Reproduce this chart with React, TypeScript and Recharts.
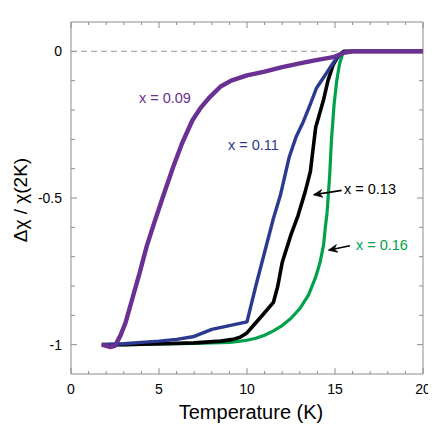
import { LineChart, Line, XAxis, YAxis, ReferenceLine, ReferenceDot, ReferenceArea } from 'recharts';

const FONT = '"Liberation Sans", Arial, Helvetica, sans-serif';
const FRAME = '#8c8c8c';

const X_TICKS = [0, 1, 2, 3, 4, 5, 6, 7, 8, 9, 10, 11, 12, 13, 14, 15, 16, 17, 18, 19, 20];
const X_LABELED = [0, 5, 10, 15, 20];
const Y_TICKS = [-1, -0.9, -0.8, -0.7, -0.6, -0.5, -0.4, -0.3, -0.2, -0.1, 0];
const Y_LABELED = [-1, -0.5, 0];
const Y_LABEL_TEXT = ['-1', '-0.5', '0'];

// x = 0.09
const T_009 = [1.75, 2.2, 2.5, 2.8, 3.1, 3.5, 3.9, 4.3, 4.7, 5.2, 5.8, 6.3, 6.9, 7.4, 7.9, 8.5, 9.1, 10.0, 11.0, 12.0, 13.0, 14.0, 14.9, 15.5, 16.0, 17, 18, 19, 20];
const D_009 = [-1.0, -1.008, -1.004, -0.97, -0.925, -0.84, -0.755, -0.665, -0.59, -0.5, -0.395, -0.315, -0.235, -0.19, -0.155, -0.12, -0.1, -0.082, -0.069, -0.054, -0.041, -0.029, -0.02, -0.005, 0, 0, 0, 0, 0];

// x = 0.11
const T_011 = [1.75, 3, 4, 5, 6, 7, 7.5, 8, 9, 10, 10.5, 11, 11.5, 11.9, 12.4, 12.8, 13.2, 13.6, 13.95, 14.4, 14.8, 15.1, 15.4, 15.7, 20];
const D_011 = [-1.0, -0.997, -0.992, -0.988, -0.982, -0.972, -0.96, -0.948, -0.935, -0.922, -0.8, -0.685, -0.57, -0.49, -0.36, -0.29, -0.24, -0.18, -0.125, -0.085, -0.048, -0.022, -0.005, 0, 0];

// x = 0.13
const T_013 = [1.75, 3, 5, 7, 8.5, 9.2, 9.6, 10.0, 10.4, 10.9, 11.5, 11.75, 12.0, 12.5, 12.9, 13.3, 13.6, 13.9, 14.35, 14.6, 14.9, 15.2, 15.5, 16, 20];
const D_013 = [-1.0, -1.0, -0.997, -0.994, -0.988, -0.982, -0.975, -0.96, -0.932, -0.898, -0.856, -0.8, -0.72, -0.625, -0.56, -0.48, -0.41, -0.26, -0.165, -0.1, -0.045, -0.015, 0, 0, 0];

// x = 0.16
const T_016 = [1.75, 3, 5, 7, 8, 9, 9.5, 10, 10.5, 11, 11.5, 12, 12.5, 13, 13.5, 13.9, 14.15, 14.35, 14.45, 14.55, 14.7, 14.8, 14.95, 15.1, 15.25, 15.45, 16, 20];
const D_016 = [-1.0, -1.0, -0.998, -0.996, -0.994, -0.992, -0.989, -0.985, -0.978, -0.968, -0.953, -0.935, -0.91, -0.877, -0.83, -0.77, -0.72, -0.66, -0.6, -0.55, -0.42, -0.3, -0.18, -0.1, -0.045, -0.005, 0, 0];

const toPoints = (t: number[], d: number[]) => t.map((v, i) => ({ t: v, d: d[i] }));

const SERIES = [
  { key: '016', name: 'x = 0.16', color: '#00a14b', width: 3.2, data: toPoints(T_016, D_016) },
  { key: '013', name: 'x = 0.13', color: '#000000', width: 3.6, data: toPoints(T_013, D_013) },
  { key: '011', name: 'x = 0.11', color: '#2b3990', width: 3.4, data: toPoints(T_011, D_011) },
  { key: '009', name: 'x = 0.09', color: '#6a3093', width: 4.4, data: toPoints(T_009, D_009) },
];

// annotation anchors (data coordinates)
const LABELS = [
  { text: 'x = 0.09', color: '#6a3093', at: [3.86, -0.16] },
  { text: 'x = 0.11', color: '#2b3990', at: [8.92, -0.32] },
  { text: 'x = 0.13', color: '#000000', at: [15.51, -0.468] },
  { text: 'x = 0.16', color: '#00a14b', at: [16.19, -0.659] },
];
const ARROWS = [
  [[15.38, -0.474], [13.77, -0.489]],
  [[15.85, -0.663], [14.62, -0.678]],
];

const near = (a: number, b: number) => Math.abs(a - b) < 1e-6;

function BottomTick({ x, y, payload }: any) {
  const v = payload.value;
  if (!X_LABELED.some((m) => near(m, v))) return <g />;
  return (
    <text x={x} y={y + 15} dy="0.35em" textAnchor="middle" fontSize={14} fill="#000" fontFamily={FONT}>
      {v}
    </text>
  );
}

function LeftTick({ x, y, payload }: any) {
  const idx = Y_LABELED.findIndex((m) => near(m, payload.value));
  if (idx < 0) return <g />;
  return (
    <text x={x - 9} y={y} dy="0.35em" textAnchor="end" fontSize={14} fill="#000" fontFamily={FONT}>
      {Y_LABEL_TEXT[idx]}
    </text>
  );
}

// inward tick marks on top and bottom edges
const xTickShape = (len: number) => (p: any) => {
  const top = Math.min(p.y1, p.y2);
  const bot = Math.max(p.y1, p.y2);
  return (
    <g>
      <line x1={p.x1} x2={p.x1} y1={top} y2={top + len} stroke={FRAME} />
      <line x1={p.x1} x2={p.x1} y1={bot} y2={bot - len} stroke={FRAME} />
    </g>
  );
};

// inward tick marks on left and right edges
const yTickShape = (len: number) => (p: any) => {
  const l = Math.min(p.x1, p.x2);
  const r = Math.max(p.x1, p.x2);
  return (
    <g>
      <line x1={l} x2={l + len} y1={p.y1} y2={p.y1} stroke={FRAME} />
      <line x1={r} x2={r - len} y1={p.y1} y2={p.y1} stroke={FRAME} />
    </g>
  );
};

const XTitle = () => (
  <text x={243} y={411} textAnchor="middle" fontSize={20} fill="#000" fontFamily={FONT}>
    Temperature (K)
  </text>
);

const YTitle = () => (
  <text x={19} y={192} transform="rotate(-90 19 192)" textAnchor="middle" fontSize={19} fill="#000" fontFamily={FONT}>
    Δχ / χ(2K)
  </text>
);

const arrowShape = (props: any) => {
  const { x1, y1, x2, y2 } = props;
  const ang = Math.atan2(y2 - y1, x2 - x1);
  const L = 9;
  const w = 3.8;
  const n = 6;
  const cos = Math.cos(ang);
  const sin = Math.sin(ang);
  const bx = x2 - L * cos;
  const by = y2 - L * sin;
  const nx = x2 - n * cos;
  const ny = y2 - n * sin;
  const head = `M${x2},${y2} L${bx - w * sin},${by + w * cos} L${nx},${ny} L${bx + w * sin},${by - w * cos} Z`;
  return (
    <g>
      <line x1={x1} y1={y1} x2={nx} y2={ny} stroke="#000" strokeWidth={1.6} />
      <path d={head} fill="#000" stroke="#000" strokeWidth={0.8} strokeLinejoin="round" />
    </g>
  );
};

export default function App() {
  return (
    <LineChart width={428} height={428} margin={{ top: 14, right: 13, bottom: 0, left: 0 }}>
      <XAxis
        dataKey="t"
        type="number"
        domain={[0, 20]}
        ticks={X_TICKS}
        interval={0}
        height={62}
        tickSize={0}
        tickMargin={0}
        tickLine={false}
        axisLine={false}
        tick={<BottomTick />}
        label={<XTitle />}
      />
      <YAxis
        type="number"
        domain={[-1.1, 0.1]}
        ticks={Y_TICKS}
        interval={0}
        width={63}
        tickSize={0}
        tickMargin={0}
        tickLine={false}
        axisLine={false}
        tick={<LeftTick />}
        label={<YTitle />}
      />
      <ReferenceArea x1={0} x2={20} y1={-1.1} y2={0.1} fill="none" fillOpacity={0} stroke={FRAME} strokeWidth={1} strokeOpacity={1} />
      {X_TICKS.map((t) => (
        <ReferenceLine key={`xt-${t}`} x={t} shape={xTickShape(X_LABELED.some((m) => near(m, t)) ? 6 : 3)} />
      ))}
      {Y_TICKS.map((v) => (
        <ReferenceLine key={`yt-${v}`} y={v} shape={yTickShape(Y_LABELED.some((m) => near(m, v)) ? 6 : 4)} />
      ))}
      <ReferenceLine y={0} stroke="#9a9a9a" strokeWidth={1} strokeDasharray="6 4" />
      {SERIES.map((s) => (
        <Line
          key={s.key}
          data={s.data}
          dataKey="d"
          name={s.name}
          type="linear"
          stroke={s.color}
          strokeWidth={s.width}
          strokeLinejoin="round"
          dot={false}
          activeDot={false}
          isAnimationActive={false}
        />
      ))}
      {ARROWS.map((a, i) => (
        <ReferenceLine
          key={`arrow-${i}`}
          segment={[
            { x: a[0][0], y: a[0][1] },
            { x: a[1][0], y: a[1][1] },
          ]}
          shape={arrowShape}
        />
      ))}
      {LABELS.map((l) => (
        <ReferenceDot
          key={l.text}
          x={l.at[0]}
          y={l.at[1]}
          r={0}
          shape={(p: any) => (
            <text x={p.cx} y={p.cy} dy="0.35em" textAnchor="start" fontSize={14.5} fill={l.color} fontFamily={FONT}>
              {l.text}
            </text>
          )}
        />
      ))}
    </LineChart>
  );
}
